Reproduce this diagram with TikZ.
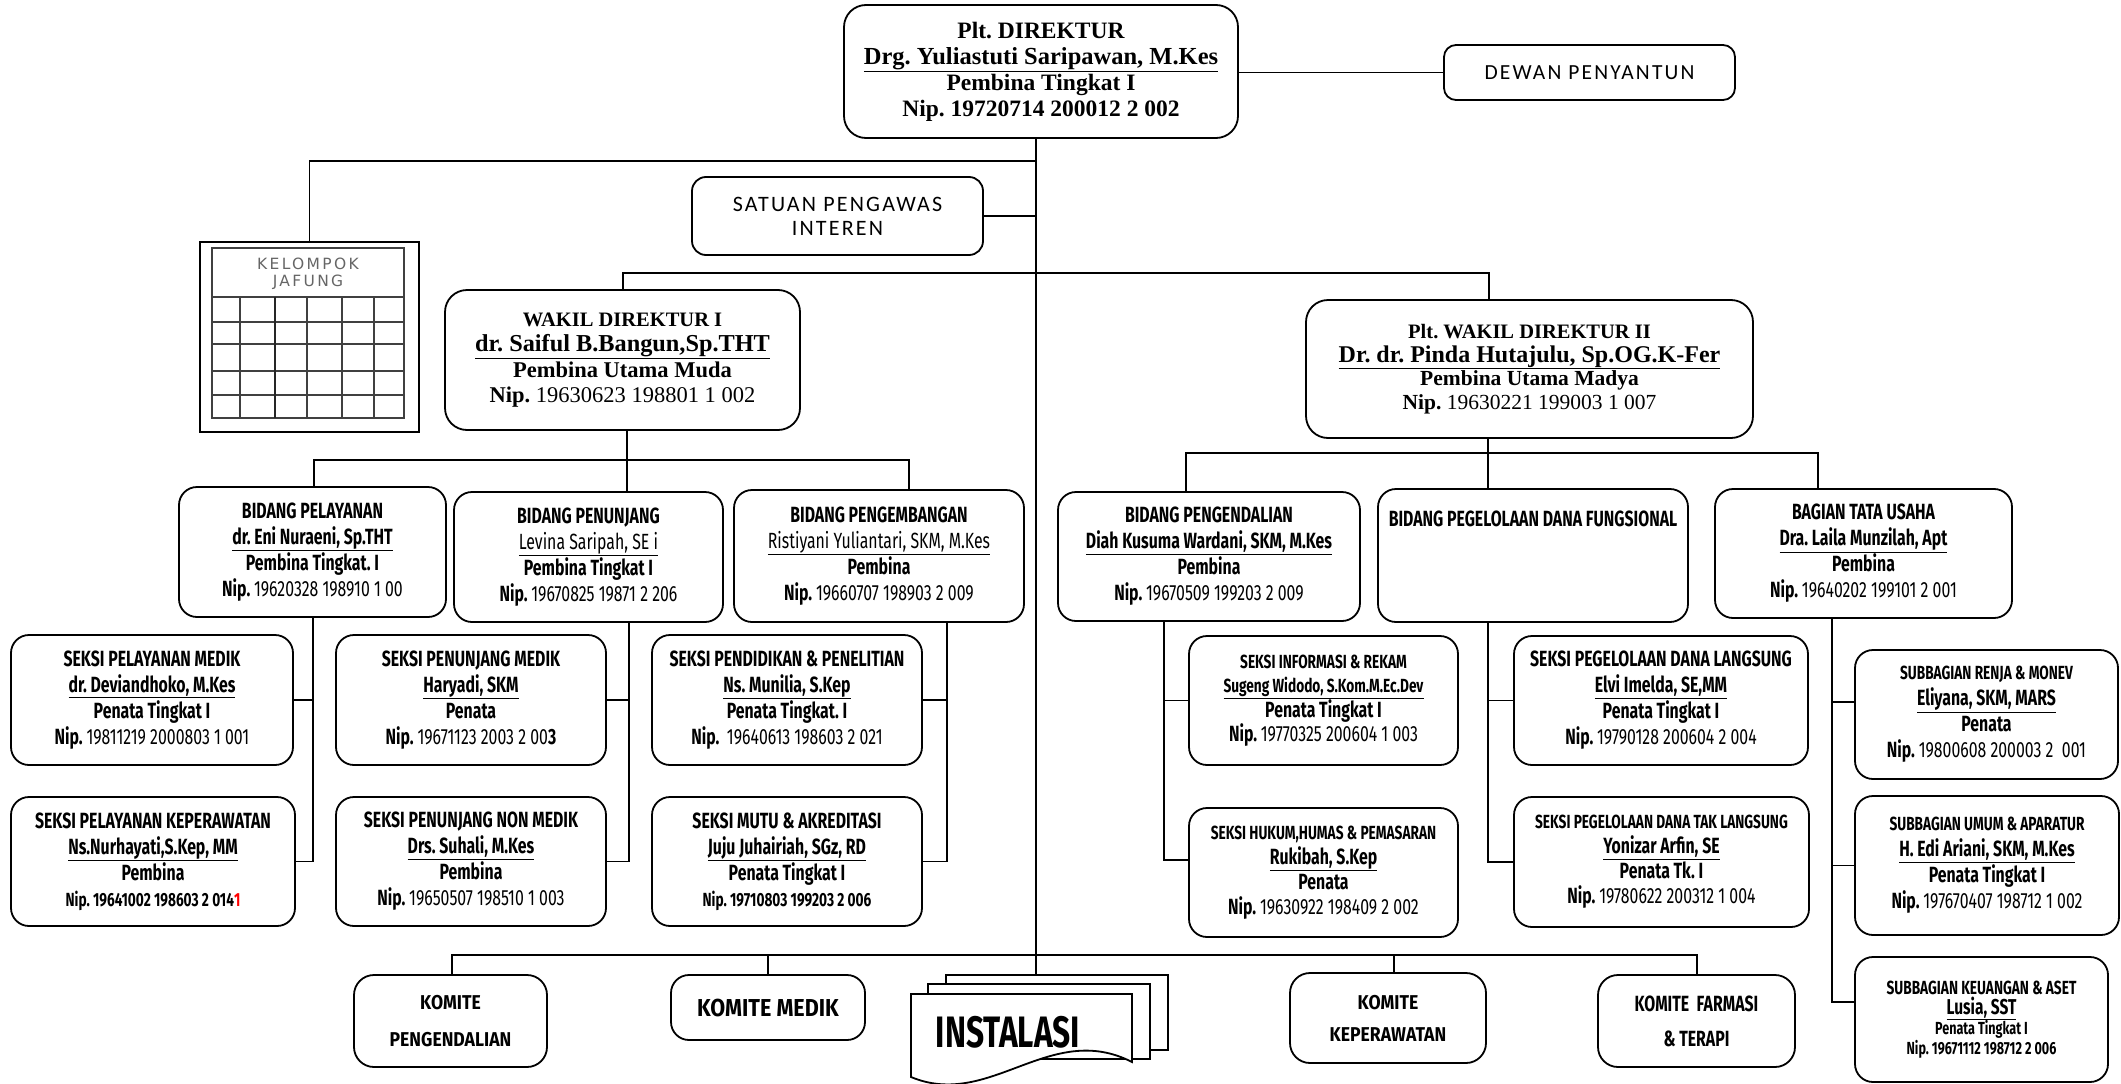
\documentclass[tikz,border=0pt]{standalone}
\usepackage{fontspec}
\setmainfont{Liberation Serif}
\newfontfamily\agency[FakeStretch=0.72]{Fira Sans}
\newfontfamily\agencyk[FakeStretch=0.88]{Fira Sans}
\newfontfamily\calib[LetterSpace=10]{Carlito}
\newfontfamily\jaf[LetterSpace=15]{DejaVu Sans}
\newcommand{\dg}[1]{{\mdseries #1}}
\newcommand{\sm}{\fontsize{19}{26}\selectfont}
\frenchspacing
\begin{document}
\begin{tikzpicture}[x=1pt,y=-1pt,
  bx/.style={draw, line width=1.8pt, rounded corners=18pt, inner sep=0pt, outer sep=0pt, align=center, fill=white},
  ln/.style={line width=1.6pt},
  ag/.style={font=\agency\fontsize{22}{26}\selectfont\bfseries},
  kom/.style={font=\agencyk\bfseries},
]
\useasboundingbox (0,0) rectangle (2121,1084);

% ---------- top level ----------
\node[bx, rounded corners=22pt, minimum width=394pt, minimum height=133pt,
      font=\fontsize{23.5}{26}\selectfont\bfseries] (direktur) at (1041,71.5)
  {Plt. DIREKTUR\\{\fontsize{24.5}{26}\selectfont\underline{Drg. Yuliastuti Saripawan, M.Kes}}\\Pembina Tingkat I\\Nip. 19720714 200012 2 002};
\node[bx, rounded corners=12pt, minimum width=291pt, minimum height=55pt,
      font=\calib\fontsize{21.5}{24}\selectfont] (dewan) at (1589.5,72.5) {DEWAN PENYANTUN};
\node[bx, rounded corners=14pt, minimum width=291pt, minimum height=78pt,
      font=\calib\fontsize{22}{24}\selectfont] (satuan) at (837.5,216) {SATUAN PENGAWAS\\INTEREN};

% ---------- kelompok jafung ----------
\node[draw, line width=1.5pt, minimum width=219pt, minimum height=190pt, inner sep=0pt, outer sep=0pt] (jafung) at (309.5,337) {};
\draw[line width=1.8pt, black!75] (212,248) rectangle (404,418);
\foreach \yy in {297,322,344,371,395} \draw[line width=1.5pt, black!75] (212,\yy) -- (404,\yy);
\foreach \xx in {240,307,342,374} \draw[line width=1.5pt, black!75] (\xx,297) -- (\xx,418);
\draw[line width=2.4pt, black!85] (275,297) -- (275,418);
\node[font=\jaf\fontsize{15.5}{17}\selectfont, text=black!60, align=center] (jaftxt) at (308,274) {KELOMPOK\\JAFUNG};

% ---------- wakil direktur ----------
\node[bx, rounded corners=22pt, minimum width=355pt, minimum height=140pt,
      font=\fontsize{22.5}{25.5}\selectfont\bfseries] (wakil1) at (622.5,360)
  {{\fontsize{20.5}{25.5}\selectfont WAKIL DIREKTUR I}\\{\fontsize{24.3}{25.5}\selectfont\underline{dr. Saiful B.Bangun,Sp.THT}}\\Pembina Utama Muda\\Nip. \dg{19630623 198801 1 002}};
\node[bx, rounded corners=22pt, minimum width=447pt, minimum height=138pt,
      font=\fontsize{21.5}{23.5}\selectfont\bfseries] (wakil2) at (1529.5,369)
  {{\fontsize{20.5}{23.5}\selectfont Plt. WAKIL DIREKTUR II}\\{\fontsize{24}{23.5}\selectfont\underline{Dr. dr. Pinda Hutajulu, Sp.OG.K-Fer}}\\Pembina Utama Madya\\Nip. \dg{19630221 199003 1 007}};

% ---------- bidang ----------
\node[bx, ag, minimum width=267pt, minimum height=130pt] (bidPel) at (312.5,552)
  {BIDANG PELAYANAN\\\underline{dr. Eni Nuraeni, Sp.THT}\\Pembina Tingkat. I\\Nip. \dg{19620328 198910 1 00}};
\node[bx, ag, minimum width=269pt, minimum height=130pt] (bidPen) at (588.5,557)
  {BIDANG PENUNJANG\\\dg{\underline{Levina Saripah, SE i}}\\Pembina Tingkat I\\Nip. \dg{19670825 19871 2 206}};
\node[bx, ag, minimum width=290pt, minimum height=132pt] (bidPeng) at (879,556)
  {BIDANG PENGEMBANGAN\\\dg{\underline{Ristiyani Yuliantari, SKM, M.Kes}}\\Pembina\\Nip. \dg{19660707 198903 2 009}};
\node[bx, ag, minimum width=302pt, minimum height=129pt] (bidPengend) at (1209,556.5)
  {BIDANG PENGENDALIAN\\\underline{Diah Kusuma Wardani, SKM, M.Kes}\\Pembina\\Nip. \dg{19670509 199203 2 009}};
\node[bx, ag, minimum width=310pt, minimum height=133pt] (bidDana) at (1533,555.5) {};
\node[ag] (bidDanaT) at (1533,519) {BIDANG PEGELOLAAN DANA FUNGSIONAL};
\node[bx, ag, minimum width=297pt, minimum height=129pt] (tataUsaha) at (1863.5,553.5)
  {BAGIAN TATA USAHA\\\underline{Dra. Laila Munzilah, Apt}\\Pembina\\Nip. \dg{19640202 199101 2 001}};

% ---------- seksi ----------
\node[bx, ag, minimum width=282pt, minimum height=130pt] (sPelMed) at (152,700)
  {SEKSI PELAYANAN MEDIK\\\underline{dr. Deviandhoko, M.Kes}\\Penata Tingkat I\\Nip. \dg{19811219 2000803 1 001}};
\node[bx, ag, minimum width=284pt, minimum height=129pt] (sPelKep) at (153,861.5)
  {SEKSI PELAYANAN KEPERAWATAN\\\underline{Ns.Nurhayati,S.Kep, MM}\\Pembina\\{\sm Nip. 19641002 198603 2 014\textcolor{red}{1}}};
\node[bx, ag, minimum width=270pt, minimum height=130pt] (sPenMed) at (471,700)
  {SEKSI PENUNJANG MEDIK\\\underline{Haryadi, SKM}\\Penata\\Nip. \dg{19671123 2003 2 00}3};
\node[bx, ag, minimum width=270pt, minimum height=129pt] (sPenNon) at (471,861.5)
  {SEKSI PENUNJANG NON MEDIK\\\underline{Drs. Suhali, M.Kes}\\Pembina\\Nip. \dg{19650507 198510 1 003}};
\node[bx, ag, minimum width=270pt, minimum height=130pt] (sPend) at (787,700)
  {SEKSI PENDIDIKAN \& PENELITIAN\\\underline{Ns. Munilia, S.Kep}\\Penata Tingkat. I\\Nip.\ \ \dg{19640613 198603 2 021}};
\node[bx, ag, minimum width=270pt, minimum height=129pt] (sMutu) at (787,861.5)
  {SEKSI MUTU \& AKREDITASI\\\underline{Juju Juhairiah, SGz, RD}\\Penata Tingkat I\\{\sm Nip. 19710803 199203 2 006}};

\node[bx, ag, font=\agency\fontsize{22}{24}\selectfont\bfseries, minimum width=269pt, minimum height=129pt] (sInfo) at (1323.5,700.5)
  {{\sm SEKSI INFORMASI \& REKAM}\\{\sm\underline{Sugeng Widodo, S.Kom.M.Ec.Dev}}\\Penata Tingkat I\\Nip. \dg{19770325 200604 1 003}};
\node[bx, ag, font=\agency\fontsize{22}{25}\selectfont\bfseries, minimum width=269pt, minimum height=129pt] (sHukum) at (1323.5,872.5)
  {{\sm SEKSI HUKUM,HUMAS \& PEMASARAN}\\\underline{Rukibah, S.Kep}\\Penata\\Nip. \dg{19630922 198409 2 002}};
\node[bx, ag, minimum width=294pt, minimum height=129pt] (sDanaL) at (1661,700.5)
  {SEKSI PEGELOLAAN DANA LANGSUNG\\\underline{Elvi Imelda, SE,MM}\\Penata Tingkat I\\Nip. \dg{19790128 200604 2 004}};
\node[bx, ag, font=\agency\fontsize{22}{25}\selectfont\bfseries, minimum width=295pt, minimum height=130pt] (sDanaTL) at (1661.5,862)
  {{\sm SEKSI PEGELOLAAN DANA TAK LANGSUNG}\\\underline{Yonizar Arfin, SE}\\Penata Tk. I\\Nip. \dg{19780622 200312 1 004}};
\node[bx, ag, minimum width=263pt, minimum height=129pt] (sRenja) at (1986.5,714.5)
  {{\sm SUBBAGIAN RENJA \& MONEV}\\\underline{Eliyana, SKM, MARS}\\Penata\\Nip. \dg{19800608 200003 2 \ 001}};
\node[bx, ag, minimum width=264pt, minimum height=139pt] (sUmum) at (1987,865.5)
  {{\sm SUBBAGIAN UMUM \& APARATUR}\\\underline{H. Edi Ariani, SKM, M.Kes}\\Penata Tingkat I\\Nip. \dg{197670407 198712 1 002}};
\node[bx, ag, font=\agency\fontsize{21.5}{20}\selectfont\bfseries, minimum width=253pt, minimum height=125pt] (sKeu) at (1981.5,1019.5)
  {{\fontsize{19}{20}\selectfont SUBBAGIAN KEUANGAN \& ASET}\\\underline{Lusia, SST}\\{\fontsize{17.5}{20}\selectfont Penata Tingkat I}\\{\fontsize{17.5}{20}\selectfont Nip. 19671112 198712 2 006}};

% ---------- komite + instalasi ----------
\node[bx, kom, font=\agencyk\fontsize{20}{37}\selectfont\bfseries, rounded corners=20pt, minimum width=193pt, minimum height=92pt] (kPeng) at (450.5,1021) {KOMITE\\PENGENDALIAN};
\node[bx, kom, font=\agencyk\fontsize{24.5}{30}\selectfont\bfseries, rounded corners=18pt, minimum width=194pt, minimum height=65pt] (kMed) at (768,1007.5) {KOMITE MEDIK};
\node[bx, kom, font=\agencyk\fontsize{20}{32}\selectfont\bfseries, rounded corners=20pt, minimum width=196pt, minimum height=90pt] (kKep) at (1388,1018) {KOMITE\\KEPERAWATAN};
\node[bx, kom, font=\agency\fontsize{22}{35}\selectfont\bfseries, rounded corners=20pt, minimum width=197pt, minimum height=92pt] (kFar) at (1696.5,1021) {KOMITE\ \ FARMASI\\\& TERAPI};

\draw[line width=1.8pt, fill=white] (946,975) rectangle (1168,1050);
\draw[line width=1.8pt, fill=white] (928,984) rectangle (1150,1059);
\draw[line width=1.8pt, fill=white] (911,994) -- (1132,994) -- (1132,1062)
   .. controls (1050,1020) and (990,1110) .. (911,1077) -- cycle;
\node[font=\agency\fontsize{44}{46}\selectfont\bfseries] (inst) at (1008,1032) {INSTALASI};
\coordinate (instTop) at (1036,975);

% ---------- connectors ----------
\coordinate (trk) at (1036,0);
\draw[ln] (direktur.south -| trk) -- (instTop);
\draw[ln] (direktur.east |- dewan.west) -- (dewan.west);
\coordinate (jA) at (1036,161);
\draw[ln] (jafung.north) |- (jA);
\draw[ln] (satuan.east) -- (satuan.east -| trk);

\coordinate (bW1) at (623,273);
\coordinate (bW2) at (1489,273);
\draw[ln] (wakil1.north -| bW1) -- (bW1) -- (bW2) -- (wakil2.north -| bW2);

\coordinate (bL1) at (314,460);
\coordinate (bL2) at (627,460);
\coordinate (bL3) at (909,460);
\draw[ln] (wakil1.south -| bL2) -- (bidPen.north -| bL2);
\draw[ln] (bidPel.north -| bL1) -- (bL1) -- (bL3) -- (bidPeng.north -| bL3);

\coordinate (bR1) at (1186,453);
\coordinate (bR2) at (1488,453);
\coordinate (bR3) at (1818,453);
\draw[ln] (wakil2.south -| bR2) -- (bidDana.north -| bR2);
\draw[ln] (bidPengend.north -| bR1) -- (bR1) -- (bR3) -- (tataUsaha.north -| bR3);

\coordinate (v1) at (313,0);
\coordinate (v2) at (629,0);
\coordinate (v3) at (947,0);
\coordinate (v4) at (1164,0);
\coordinate (v5) at (1488,0);
\coordinate (v6) at (1832,0);
\draw[ln] (bidPel.south -| v1) -- (sPelKep.east -| v1) -- (sPelKep.east);
\draw[ln] (sPelMed.east) -- (sPelMed.east -| v1);
\draw[ln] (bidPen.south -| v2) -- (sPenNon.east -| v2) -- (sPenNon.east);
\draw[ln] (sPenMed.east) -- (sPenMed.east -| v2);
\draw[ln] (bidPeng.south -| v3) -- (sMutu.east -| v3) -- (sMutu.east);
\draw[ln] (sPend.east) -- (sPend.east -| v3);
\draw[ln] (bidPengend.south -| v4) -- ([yshift=12.5pt]sHukum.west -| v4) -- ([yshift=12.5pt]sHukum.west);
\draw[ln] (sInfo.west) -- (sInfo.west -| v4);
\draw[ln] (bidDana.south -| v5) -- (sDanaTL.west -| v5) -- (sDanaTL.west);
\draw[ln] (sDanaL.west) -- (sDanaL.west -| v5);
\draw[ln] (tataUsaha.south -| v6) -- ([yshift=17.5pt]sKeu.west -| v6) -- ([yshift=17.5pt]sKeu.west);
\draw[ln] ([yshift=12.5pt]sRenja.west) -- ([yshift=12.5pt]sRenja.west -| v6);
\draw[ln] (sUmum.west) -- (sUmum.west -| v6);

\coordinate (kb1) at (452,955);
\coordinate (kb5) at (1697,955);
\draw[ln] (kPeng.north -| kb1) -- (kb1) -- (kb5) -- (kFar.north -| kb5);
\draw[ln] (kMed.north) -- (kMed.north |- kb1);
\draw[ln] ([xshift=6pt]kKep.north) -- ([xshift=6pt]kKep.north |- kb1);
\end{tikzpicture}
\end{document}
